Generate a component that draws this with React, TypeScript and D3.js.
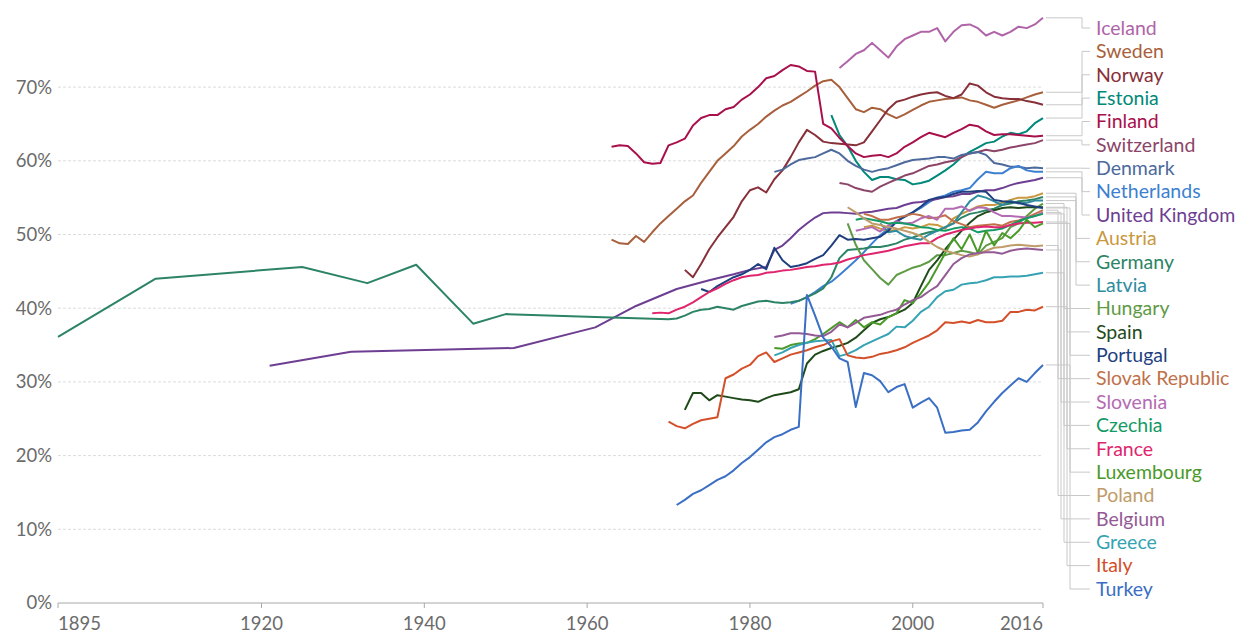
import React from "react";
import * as d3 from "d3";

type Pt = [number, number];

// series values: [year, share of women in the labour force %]
const iceland: Pt[] = [[1991,72.6],[1992,73.5],[1993,74.5],[1994,75],[1995,76],[1996,75],[1997,74],[1998,75.5],[1999,76.5],[2000,77],[2001,77.5],[2002,77.5],[2003,78],[2004,76.2],[2005,77.5],[2006,78.4],[2007,78.5],[2008,78],[2009,77],[2010,77.5],[2011,77],[2012,77.5],[2013,78.2],[2014,78],[2015,78.5],[2016,79.4]];
const sweden: Pt[] = [[1963,49.3],[1964,48.8],[1965,48.7],[1966,49.8],[1967,49],[1968,50.3],[1969,51.5],[1970,52.5],[1971,53.5],[1972,54.5],[1973,55.3],[1974,57],[1975,58.5],[1976,60],[1977,61],[1978,62],[1979,63.3],[1980,64.2],[1981,65],[1982,66],[1983,66.8],[1984,67.5],[1985,68],[1986,68.7],[1987,69.4],[1988,70.2],[1989,70.8],[1990,71],[1991,70],[1992,68.5],[1993,67],[1994,66.6],[1995,67.2],[1996,67],[1997,66.3],[1998,65.8],[1999,66.3],[2000,66.9],[2001,67.5],[2002,68],[2003,68.2],[2004,68.4],[2005,68.5],[2006,68.6],[2007,68.2],[2008,68],[2009,67.6],[2010,67.2],[2011,67.6],[2012,67.9],[2013,68.2],[2014,68.6],[2015,69],[2016,69.3]];
const norway: Pt[] = [[1972,45.2],[1973,44.2],[1974,46],[1975,48],[1976,49.6],[1977,51],[1978,52.4],[1979,54.5],[1980,56],[1981,56.4],[1982,55.7],[1983,57.5],[1984,58.7],[1985,60.5],[1986,62.5],[1987,64.2],[1988,63.5],[1989,62.6],[1990,62.4],[1991,62.3],[1992,62.2],[1993,62.1],[1994,62.5],[1995,64],[1996,65.5],[1997,67],[1998,68],[1999,68.3],[2000,68.7],[2001,69],[2002,69.2],[2003,69.3],[2004,68.8],[2005,68.5],[2006,69],[2007,70.5],[2008,70.2],[2009,69.3],[2010,68.7],[2011,68.5],[2012,68.4],[2013,68.4],[2014,68.1],[2015,67.9],[2016,67.6]];
const estonia: Pt[] = [[1990,66.2],[1991,63.5],[1992,62],[1993,60],[1994,58.5],[1995,57.4],[1996,57.8],[1997,57.8],[1998,57.5],[1999,57.4],[2000,56.8],[2001,57],[2002,57.3],[2003,58],[2004,58.7],[2005,59.5],[2006,60.5],[2007,61.2],[2008,61.8],[2009,62.4],[2010,62.6],[2011,63.3],[2012,63.8],[2013,63.6],[2014,64],[2015,65.1],[2016,65.8]];
const finland: Pt[] = [[1963,61.9],[1964,62.1],[1965,62],[1966,61],[1967,59.8],[1968,59.6],[1969,59.7],[1970,62.1],[1971,62.5],[1972,63],[1973,64.8],[1974,65.8],[1975,66.2],[1976,66.2],[1977,67],[1978,67.3],[1979,68.3],[1980,69],[1981,70],[1982,71.2],[1983,71.5],[1984,72.3],[1985,73],[1986,72.8],[1987,72.2],[1988,72.1],[1989,65],[1990,64.4],[1991,63.1],[1992,62],[1993,61],[1994,60.5],[1995,60.7],[1996,60.8],[1997,60.5],[1998,61],[1999,61.9],[2000,62.5],[2001,63.2],[2002,63.8],[2003,63.5],[2004,63.2],[2005,63.8],[2006,64.3],[2007,64.9],[2008,64.7],[2009,64],[2010,63.5],[2011,63.6],[2012,63.6],[2013,63.5],[2014,63.4],[2015,63.3],[2016,63.4]];
const switzerland: Pt[] = [[1991,57],[1992,56.8],[1993,56.3],[1994,56],[1995,55.8],[1996,56.5],[1997,57],[1998,57.5],[1999,58],[2000,58.3],[2001,58.8],[2002,59.3],[2003,59.5],[2004,59.8],[2005,60],[2006,60.5],[2007,61],[2008,61.2],[2009,61.5],[2010,61.3],[2011,61.5],[2012,61.8],[2013,62],[2014,62.2],[2015,62.4],[2016,62.8]];
const denmark: Pt[] = [[1983,58.5],[1984,58.8],[1985,59.5],[1986,60.1],[1987,60.3],[1988,60.5],[1989,61],[1990,61.5],[1991,61],[1992,60],[1993,59.3],[1994,58.8],[1995,58.5],[1996,58.8],[1997,59],[1998,59.4],[1999,59.8],[2000,60.1],[2001,60.2],[2002,60.3],[2003,60.5],[2004,60.5],[2005,60.3],[2006,60.8],[2007,61],[2008,61.2],[2009,60.8],[2010,59.7],[2011,59.5],[2012,59.2],[2013,59.2],[2014,59],[2015,59.1],[2016,59]];
const netherlands: Pt[] = [[1985,40.6],[1986,41],[1987,41.5],[1988,42.2],[1989,43],[1990,43.6],[1991,44.5],[1992,45.5],[1993,46.5],[1994,47.6],[1995,48.8],[1996,49.9],[1997,50.8],[1998,51.7],[1999,52.5],[2000,53],[2001,53.6],[2002,54.4],[2003,55],[2004,55.3],[2005,55.8],[2006,56],[2007,56.3],[2008,57.5],[2009,58.5],[2010,58.3],[2011,58.3],[2012,59],[2013,59.3],[2014,58.7],[2015,58.5],[2016,58.5]];
const unitedKingdom: Pt[] = [[1921,32.2],[1931,34.1],[1951,34.6],[1961,37.4],[1966,40.3],[1971,42.6],[1975,43.8],[1978,44.6],[1980,45.2],[1982,45.6],[1983,47.9],[1984,48.5],[1985,49.5],[1986,50.6],[1987,51.5],[1988,52.3],[1989,52.9],[1990,53],[1991,53],[1992,52.9],[1993,52.8],[1994,53],[1995,53.1],[1996,53.3],[1997,53.5],[1998,53.6],[1999,54],[2000,54.3],[2001,54.4],[2002,54.6],[2003,54.8],[2004,55.1],[2005,55.2],[2006,55.5],[2007,55.5],[2008,55.8],[2009,56],[2010,56],[2011,56.3],[2012,56.7],[2013,57],[2014,57.2],[2015,57.4],[2016,57.7]];
const austria: Pt[] = [[1994,51],[1995,51.2],[1996,50.8],[1997,50.5],[1998,50.6],[1999,51],[2000,50.8],[2001,51],[2002,51.4],[2003,51.3],[2004,50.8],[2005,52.2],[2006,52.8],[2007,53.3],[2008,53.8],[2009,54],[2010,54],[2011,54.3],[2012,54.7],[2013,55],[2014,55],[2015,55.2],[2016,55.6]];
const germany: Pt[] = [[1895,36.1],[1907,44],[1925,45.6],[1933,43.4],[1939,45.9],[1946,37.9],[1950,39.2],[1961,38.8],[1970,38.5],[1971,38.6],[1972,39],[1973,39.5],[1974,39.8],[1975,39.9],[1976,40.2],[1977,40],[1978,39.8],[1979,40.3],[1980,40.6],[1981,40.9],[1982,41],[1983,40.8],[1984,40.7],[1985,40.8],[1986,41],[1987,41.5],[1988,42],[1989,42.7],[1990,44.2],[1991,46.8],[1992,47.9],[1993,48],[1994,48.1],[1995,48.3],[1996,48.3],[1997,48.5],[1998,48.8],[1999,49.3],[2000,49.6],[2001,50],[2002,50.3],[2003,50.5],[2004,51],[2005,51.5],[2006,52.3],[2007,52.8],[2008,53],[2009,53.3],[2010,53.5],[2011,54],[2012,54.2],[2013,54.5],[2014,54.6],[2015,54.8],[2016,55.1]];
const latvia: Pt[] = [[1996,51.5],[1997,50.3],[1998,50.5],[1999,49.8],[2000,49.5],[2001,49.3],[2002,50],[2003,50.5],[2004,51],[2005,51.5],[2006,53],[2007,54.5],[2008,55.3],[2009,55],[2010,54.5],[2011,54],[2012,54.6],[2013,54.2],[2014,54.3],[2015,54.6],[2016,54.6]];
const hungary: Pt[] = [[1992,51.5],[1993,48.6],[1994,46.5],[1995,45.3],[1996,44.1],[1997,43.2],[1998,44.5],[1999,45],[2000,45.5],[2001,45.8],[2002,46.3],[2003,47.2],[2004,47.2],[2005,47.5],[2006,47.8],[2007,47.6],[2008,47.3],[2009,48.5],[2010,49],[2011,49.5],[2012,51],[2013,51.5],[2014,52.5],[2015,53.5],[2016,54.2]];
const spain: Pt[] = [[1972,26.2],[1973,28.5],[1974,28.5],[1975,27.5],[1976,28.2],[1977,28],[1978,27.8],[1979,27.6],[1980,27.5],[1981,27.3],[1982,27.8],[1983,28.2],[1984,28.4],[1985,28.6],[1986,29],[1987,32.5],[1988,33.7],[1989,34.2],[1990,34.6],[1991,34.9],[1992,35.3],[1993,36],[1994,37],[1995,38],[1996,38.5],[1997,38.8],[1998,39.3],[1999,39.8],[2000,40.7],[2001,43],[2002,45.2],[2003,46.5],[2004,48],[2005,49.3],[2006,50.5],[2007,51.6],[2008,52.5],[2009,53],[2010,53.3],[2011,53.6],[2012,53.7],[2013,53.6],[2014,53.7],[2015,53.7],[2016,53.7]];
const portugal: Pt[] = [[1974,42.6],[1975,42.2],[1976,43],[1977,43.6],[1978,44.2],[1979,44.6],[1980,45.2],[1981,46],[1982,45.3],[1983,48.2],[1984,46.5],[1985,45.6],[1986,45.8],[1987,46.1],[1988,46.7],[1989,47.2],[1990,48.5],[1991,49.9],[1992,49.3],[1993,49.4],[1994,49.3],[1995,49.5],[1996,49.7],[1997,50.5],[1998,51.8],[1999,52.4],[2000,53],[2001,53.8],[2002,54.7],[2003,55],[2004,55.1],[2005,55.5],[2006,55.8],[2007,55.8],[2008,55.9],[2009,55.8],[2010,54.7],[2011,54.5],[2012,54.4],[2013,54.3],[2014,54],[2015,53.8],[2016,53.6]];
const slovakRepublic: Pt[] = [[1994,52.8],[1995,52.5],[1996,52],[1997,52],[1998,52.3],[1999,52.5],[2000,52.8],[2001,52.6],[2002,52.2],[2003,52.3],[2004,52.6],[2005,51.8],[2006,51.4],[2007,51],[2008,51.2],[2009,51.3],[2010,51.4],[2011,51.2],[2012,51.7],[2013,51.9],[2014,52.3],[2015,52.8],[2016,53.3]];
const slovenia: Pt[] = [[1993,50.5],[1995,51],[1996,50.4],[1997,51.2],[1998,51.8],[1999,51.5],[2000,51.6],[2001,52.2],[2002,52.5],[2003,52],[2004,53.5],[2005,53.5],[2006,53.8],[2007,53.2],[2008,53.7],[2009,53.6],[2010,53],[2011,52.5],[2012,52.5],[2013,52.4],[2014,52.3],[2015,52.5],[2016,53]];
const czechia: Pt[] = [[1993,52],[1994,52.2],[1995,52],[1996,51.8],[1997,51.5],[1998,51.6],[1999,51.5],[2000,51.3],[2001,51],[2002,50.9],[2003,50.6],[2004,50.5],[2005,50.8],[2006,51],[2007,50.8],[2008,50.3],[2009,50.5],[2010,50.6],[2011,50.8],[2012,51.3],[2013,51.8],[2014,52.2],[2015,52.5],[2016,52.8]];
const france: Pt[] = [[1968,39.3],[1969,39.4],[1970,39.3],[1971,39.8],[1972,40.2],[1973,40.8],[1974,41.5],[1975,42.2],[1976,42.7],[1977,43.3],[1978,43.8],[1979,44.2],[1980,44.4],[1981,44.5],[1982,44.8],[1983,44.9],[1984,45.1],[1985,45.2],[1986,45.4],[1987,45.6],[1988,45.7],[1989,45.9],[1990,46],[1991,46.2],[1992,46.6],[1993,46.9],[1994,47.2],[1995,47.4],[1996,47.6],[1997,47.8],[1998,48.1],[1999,48.4],[2000,48.6],[2001,48.8],[2002,48.8],[2003,49.5],[2004,50],[2005,50.3],[2006,50.6],[2007,50.8],[2008,51],[2009,51.1],[2010,51],[2011,51],[2012,51.3],[2013,51.5],[2014,51.6],[2015,51.6],[2016,51.7]];
const luxembourg: Pt[] = [[1983,34.6],[1984,34.5],[1985,35],[1986,35.2],[1987,35.3],[1988,35.8],[1989,36.5],[1990,37.3],[1991,38.1],[1992,37.4],[1993,38.4],[1994,37.4],[1995,38.1],[1996,37.8],[1997,38.8],[1998,39.3],[1999,41.1],[2000,40.7],[2001,42],[2002,43.5],[2003,45.5],[2004,47.5],[2005,49.5],[2006,48],[2007,50],[2008,47.5],[2009,50.5],[2010,48.5],[2011,50.2],[2012,49.5],[2013,50.5],[2014,52],[2015,51],[2016,51.5]];
const poland: Pt[] = [[1992,53.7],[1993,53],[1994,52.2],[1995,51.5],[1996,51.3],[1997,51],[1998,50.8],[1999,50.5],[2000,50.2],[2001,49.8],[2002,49],[2003,48.3],[2004,47.8],[2005,47.5],[2006,47.2],[2007,47],[2008,47.3],[2009,47.8],[2010,48.2],[2011,48.3],[2012,48.5],[2013,48.6],[2014,48.5],[2015,48.4],[2016,48.5]];
const belgium: Pt[] = [[1983,36.1],[1984,36.3],[1985,36.6],[1986,36.6],[1987,36.5],[1988,36.3],[1989,36.2],[1990,36.8],[1991,37.8],[1992,37.4],[1993,38],[1994,38.7],[1995,38.9],[1996,39.1],[1997,39.5],[1998,39.8],[1999,40.5],[2000,41.1],[2001,41.5],[2002,42.3],[2003,43],[2004,44.5],[2005,46],[2006,46.8],[2007,47.3],[2008,47.5],[2009,47.6],[2010,47.6],[2011,47.4],[2012,47.8],[2013,48],[2014,48.1],[2015,48],[2016,47.9]];
const greece: Pt[] = [[1983,33.6],[1984,34],[1985,34.6],[1986,35],[1987,35.3],[1988,35.5],[1989,35.6],[1990,35.7],[1991,33.5],[1992,33.8],[1993,34.3],[1994,35],[1995,35.5],[1996,36],[1997,36.5],[1998,37.5],[1999,37.4],[2000,38.3],[2001,39.5],[2002,40.2],[2003,41.5],[2004,42.3],[2005,42.5],[2006,43.2],[2007,43.4],[2008,43.5],[2009,43.8],[2010,44.2],[2011,44.2],[2012,44.3],[2013,44.3],[2014,44.4],[2015,44.6],[2016,44.8]];
const italy: Pt[] = [[1970,24.6],[1971,24],[1972,23.7],[1973,24.3],[1974,24.8],[1975,25],[1976,25.2],[1977,30.5],[1978,31],[1979,31.8],[1980,32.3],[1981,33.5],[1982,34],[1983,32.7],[1984,33.2],[1985,33.7],[1986,34],[1987,34.3],[1988,34.7],[1989,35],[1990,35.5],[1991,35.8],[1992,33.6],[1993,33.3],[1994,33.2],[1995,33.4],[1996,33.8],[1997,34],[1998,34.3],[1999,34.7],[2000,35.3],[2001,35.8],[2002,36.3],[2003,37],[2004,38.1],[2005,38],[2006,38.2],[2007,38],[2008,38.4],[2009,38.1],[2010,38.1],[2011,38.3],[2012,39.5],[2013,39.5],[2014,39.8],[2015,39.7],[2016,40.2]];
const turkey: Pt[] = [[1971,13.3],[1972,14],[1973,14.8],[1974,15.3],[1975,16],[1976,16.7],[1977,17.2],[1978,18],[1979,19],[1980,19.8],[1981,20.8],[1982,21.8],[1983,22.5],[1984,22.9],[1985,23.5],[1986,23.9],[1987,41.8],[1988,39],[1989,36],[1990,34.8],[1991,33.2],[1992,32.7],[1993,26.6],[1994,31.2],[1995,30.9],[1996,30.1],[1997,28.6],[1998,29.3],[1999,29.7],[2000,26.5],[2001,27.2],[2002,27.8],[2003,26.5],[2004,23.1],[2005,23.2],[2006,23.4],[2007,23.5],[2008,24.5],[2009,26],[2010,27.3],[2011,28.5],[2012,29.5],[2013,30.5],[2014,30],[2015,31.2],[2016,32.3]];

// legend order (top to bottom) and colours
const countries = ["Iceland","Sweden","Norway","Estonia","Finland","Switzerland","Denmark","Netherlands","United Kingdom","Austria","Germany","Latvia","Hungary","Spain","Portugal","Slovak Republic","Slovenia","Czechia","France","Luxembourg","Poland","Belgium","Greece","Italy","Turkey"];
const seriesValues = [iceland,sweden,norway,estonia,finland,switzerland,denmark,netherlands,unitedKingdom,austria,germany,latvia,hungary,spain,portugal,slovakRepublic,slovenia,czechia,france,luxembourg,poland,belgium,greece,italy,turkey];
const colors = ["#b064a8","#a85f3c","#883039","#00887a","#a8104c","#8c4569","#4c6a9c","#3d7fd0","#6d3e91","#c9983f","#2c8465","#2e8c9e","#5f9a45","#1f4a1a","#1f3f7f","#c0714a","#b46bb3","#139a66","#e0256e","#4a9a2a","#bf9c6a","#945a95","#35a3b3","#d4502a","#3a6fc4"];

const yTicks = [0, 10, 20, 30, 40, 50, 60, 70];
const xTicks = [1895, 1920, 1940, 1960, 1980, 2000, 2016];

const W = 1243;
const H = 635;

export default function App() {
  const x = d3.scaleLinear().domain([1895, 2016]).range([58, 1043]);
  const y = d3.scaleLinear().domain([0, 80]).range([603, 13.4]);
  const labelY = d3.scalePoint().domain(countries).range([28, 589]);
  const line = d3
    .line<Pt>()
    .x((d) => x(d[0]))
    .y((d) => y(d[1]));

  const font = "Lato, 'Noto Sans', sans-serif";

  return (
    <svg
      width={W}
      height={H}
      style={{ position: "absolute", left: 0, top: 0, background: "#fff" }}
      fontFamily={font}
    >
      {/* grid + y labels */}
      {yTicks.map((t) => (
        <g key={t}>
          {t > 0 && (
            <line
              x1={58}
              x2={1043}
              y1={y(t)}
              y2={y(t)}
              stroke="#dcdcdc"
              strokeDasharray="3,2"
            />
          )}
          <text
            x={52}
            y={y(t)}
            dy="0.35em"
            textAnchor="end"
            fontSize={18.5}
            fill="#6b6b6b"
          >
            {t}%
          </text>
        </g>
      ))}

      {/* x axis */}
      <line x1={58} x2={1043} y1={y(0)} y2={y(0)} stroke="#a8a8a8" />
      {xTicks.map((t, i) => (
        <g key={t}>
          <line x1={x(t)} x2={x(t)} y1={y(0)} y2={y(0) + 5} stroke="#a8a8a8" />
          <text
            x={x(t)}
            y={630}
            textAnchor={i === 0 ? "start" : i === xTicks.length - 1 ? "end" : "middle"}
            fontSize={18.5}
            fill="#6b6b6b"
          >
            {t}
          </text>
        </g>
      ))}

      {/* connectors */}
      {countries.map((c, i) => {
        const s = seriesValues[i];
        const last = s[s.length - 1];
        const yEnd = y(last[1]);
        const yLab = labelY(c) as number;
        const dy = Math.abs(yLab - yEnd);
        const knee = dy < 45 ? 1082 : dy < 100 ? 1076 : 1058 + (i % 5) * 3;
        return (
          <path
            key={"c" + c}
            d={`M${x(last[0]) + 3},${yEnd}H${knee}V${yLab}H1090`}
            fill="none"
            stroke="#c8c8c8"
            strokeWidth={1}
          />
        );
      })}

      {/* lines */}
      {countries.map((c, i) => (
        <path
          key={"l" + c}
          d={line(seriesValues[i]) || ""}
          fill="none"
          stroke={colors[i]}
          strokeWidth={2}
          strokeLinejoin="round"
        />
      ))}

      {/* labels */}
      {countries.map((c, i) => (
        <text
          key={"t" + c}
          x={1096}
          y={labelY(c) as number}
          dy="0.35em"
          fontSize={19.5}
          fill={colors[i]}
        >
          {c}
        </text>
      ))}
    </svg>
  );
}
